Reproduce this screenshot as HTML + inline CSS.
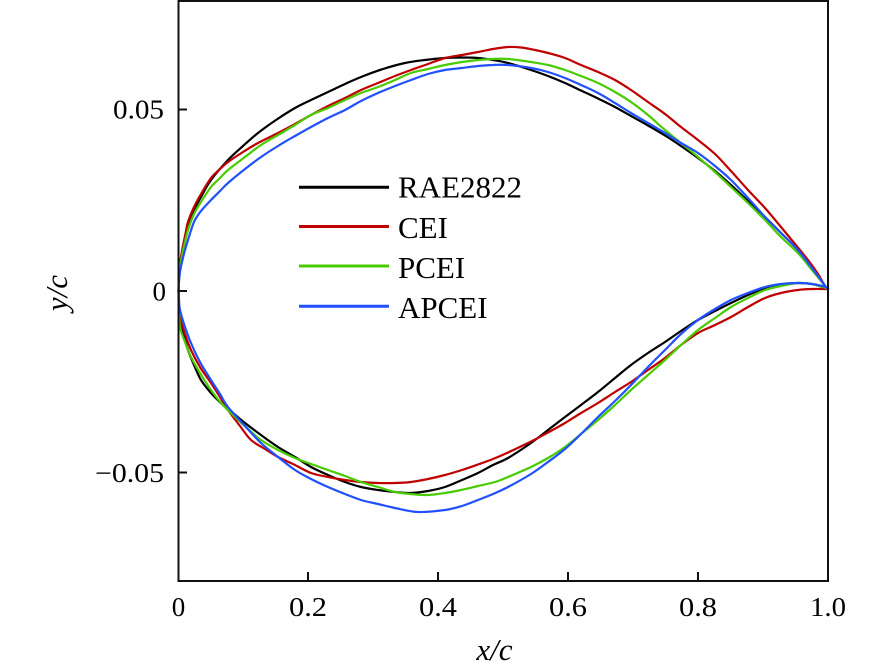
<!DOCTYPE html>
<html>
<head>
<meta charset="utf-8">
<style>
html,body{margin:0;padding:0;background:#fff;}
svg{display:block;}
text{font-family:"Liberation Serif","Times New Roman",serif;fill:#000;}
</style>
</head>
<body>
<svg id="chart" width="887" height="672" viewBox="0 0 887 672" xmlns="http://www.w3.org/2000/svg">
<rect x="0" y="0" width="887" height="672" fill="#fff"/>
<g id="curves" fill="none" stroke-width="2.2" stroke-linejoin="round" stroke-linecap="round">
<!-- black -->
<polyline stroke="#000" points="178.5,291 179,278 180,265 182,252 185,238 188,225 194,210 201,197 211,180 228,160 243,146 258,133 276,120 295,108 311,100 328,92 345,84 361,77 383,69 405,63 425,60 445,58 462,57.5 478,58 493,60 508,63 531,70 548,76 565,83 581,90.5 598,98.5 615,107 631,116 648,125.5 665,135.5 681,146 698,158 715,171 731,185 748,201 765,217 781,233 798,250 812,268 826,287 828,289"/>
<polyline stroke="#000" points="178.5,291 179,305 180,320 184,335 188,350 194,365 201,380 211,393 221,403 233,413 245,423 261,435 278,447 295,457 311,467 328,475 345,482 361,487 378,490 395,492 411,493 428,491 445,487 462,480 478,473 493,465 508,458 531,443 548,430 565,417 581,405 598,392 615,378 631,365 648,353 665,342 681,331 698,320 715,311 731,303 748,295 765,288 781,285 798,283 812,284 826,288 828,289"/>
<!-- red -->
<polyline stroke="#c00000" points="178.5,291 179,278 180,265 182,251 185,236 188,222 194,207 201,194 211,178 220,169 228,162 243,152 258,143 278,133 295,124 311,115 328,106 345,98 361,90 378,83 395,76 411,70 428,64 445,58 462,55 478,52 493,49 508,47 521,47.5 535,50 548,53 565,58 581,65 598,72 615,80 631,90 648,102 665,114 681,127 698,140 715,154 731,171 748,190 765,208 781,227 795,244 808,260 818,274 826,288 828,289"/>
<polyline stroke="#c00000" points="178.5,291 179,304 180,317 185,334 191,350 200,367 211,383 220,397 228,410 240,426 251,440 265,449 278,457 295,465 311,473 328,477 345,480 361,482 378,483 395,483 411,482 428,479 445,475 462,470 478,464.5 493,459 508,452.5 531,441.5 548,432.5 565,423 581,413 598,403 615,392 631,382 648,370 665,358 681,345 698,333 715,325 731,317 748,307 765,298 781,293 798,290 812,289 826,289 828,289"/>
<!-- green -->
<polyline stroke="#48cc00" points="178.5,291 179,279 180,268 182,255 185,242 188,230 194,214 201,202 211,187 220,178 228,170 245,157 261,145 278,135 295,125 311,115 328,108 345,100 361,93 378,87 395,80 411,73 428,69 445,65 462,62 478,60 493,59 508,59 531,62 548,65 565,70 581,76 598,83 615,92 631,102 648,115 665,130 681,143 698,157 715,172 731,187 748,203 765,220 781,237 798,253 812,270 826,287 828,289"/>
<polyline stroke="#48cc00" points="178.5,291 179,308 180,327 185,342 191,357 200,373 211,390 222,404 235,417 248,429 261,440 278,450 295,458 311,464 328,470 345,476 361,482 378,487 395,492 411,494 428,495 445,493 461,490 478,486 495,482 508,477 531,467 548,458 565,447 581,434 598,420 615,405 631,390 648,375 665,360 681,345 698,330 715,318 731,307 748,298 765,290 781,286 798,283 812,284 826,288 828,289"/>
<!-- blue -->
<polyline stroke="#2050ff" points="178.5,291 179,282 180,272 182,262 185,250 188,240 194,222 201,211 211,200 220,191 228,183 245,169 261,157 278,146 295,136 311,127 328,118 345,110 361,101 378,93 395,86 411,80 428,74 445,70 462,68 478,66 493,65 508,65 531,68 548,72 565,78 581,85 598,93 615,103 631,113 648,123 665,133 681,143 698,153 715,166 731,180 748,198 765,217 781,233 798,250 812,268 826,287 828,289"/>
<polyline stroke="#2050ff" points="178.5,291 179,300 180,310 185,327 191,343 200,362 211,380 220,394 228,407 245,426 261,443 278,457 295,470 311,479 328,487 345,494 361,500 378,504 395,508 418,512 445,510 462,506 478,500 493,494 508,487 531,474 548,462 565,449 581,434 598,417 615,401 631,385 648,367 665,350 681,334 698,320 715,309 731,300 748,293 765,287 781,284 798,283 812,284 826,287 828,289"/>
</g>
<!-- frame -->
<rect x="178.5" y="1" width="649.5" height="580" fill="none" stroke="#111" stroke-width="2"/>
<!-- ticks -->
<g stroke="#111" stroke-width="2">
<line x1="308" y1="581" x2="308" y2="572"/>
<line x1="438" y1="581" x2="438" y2="572"/>
<line x1="568" y1="581" x2="568" y2="572"/>
<line x1="698" y1="581" x2="698" y2="572"/>
<line x1="178.5" y1="109.5" x2="187" y2="109.5"/>
<line x1="178.5" y1="291" x2="187" y2="291"/>
<line x1="178.5" y1="472.5" x2="187" y2="472.5"/>
</g>
<!-- tick labels -->
<g font-size="27">
<text x="164" y="118.5" text-anchor="end" textLength="51" lengthAdjust="spacingAndGlyphs">0.05</text>
<text x="166" y="300.5" text-anchor="end">0</text>
<text x="164" y="482" text-anchor="end" textLength="69" lengthAdjust="spacingAndGlyphs">−0.05</text>
<text x="178.5" y="616" text-anchor="middle">0</text>
<text x="289" y="616" textLength="38" lengthAdjust="spacingAndGlyphs">0.2</text>
<text x="419" y="616" textLength="38" lengthAdjust="spacingAndGlyphs">0.4</text>
<text x="549" y="616" textLength="38" lengthAdjust="spacingAndGlyphs">0.6</text>
<text x="679" y="616" textLength="38" lengthAdjust="spacingAndGlyphs">0.8</text>
<text x="810" y="616" textLength="36" lengthAdjust="spacingAndGlyphs">1.0</text>
</g>
<!-- axis titles -->
<text x="494.5" y="660" font-size="31" font-style="italic" text-anchor="middle">x/c</text>
<text transform="translate(67,293) rotate(-90)" font-size="31" font-style="italic" text-anchor="middle">y/c</text>
<!-- legend -->
<g stroke-width="3">
<line x1="299" y1="187.3" x2="389" y2="187.3" stroke="#000"/>
<line x1="299" y1="226.5" x2="389" y2="226.5" stroke="#c00000"/>
<line x1="299" y1="266" x2="389" y2="266" stroke="#48cc00"/>
<line x1="299" y1="306.3" x2="389" y2="306.3" stroke="#2050ff"/>
</g>
<g font-size="31">
<text x="398" y="197.5">RAE2822</text>
<text x="398" y="237.8">CEI</text>
<text x="398" y="278">PCEI</text>
<text x="398" y="318">APCEI</text>
</g>
</svg>
<script>
(function(){
  var NS="http://www.w3.org/2000/svg";
  var g=document.getElementById("curves");
  var pls=Array.prototype.slice.call(g.getElementsByTagName("polyline"));
  pls.forEach(function(pl){
    var raw=pl.getAttribute("points").trim().split(/\s+/).map(function(s){var a=s.split(",");return [parseFloat(a[0]),parseFloat(a[1])];});
    var n=raw.length;
    var d="M"+raw[0][0]+","+raw[0][1];
    for(var i=0;i<n-1;i++){
      var p0=raw[i>0?i-1:i],p1=raw[i],p2=raw[i+1],p3=raw[i+2<n?i+2:i+1];
      var c1x=p1[0]+(p2[0]-p0[0])/6,c1y=p1[1]+(p2[1]-p0[1])/6;
      var c2x=p2[0]-(p3[0]-p1[0])/6,c2y=p2[1]-(p3[1]-p1[1])/6;
      d+=" C"+c1x.toFixed(2)+","+c1y.toFixed(2)+" "+c2x.toFixed(2)+","+c2y.toFixed(2)+" "+p2[0]+","+p2[1];
    }
    var p=document.createElementNS(NS,"path");
    p.setAttribute("d",d);
    p.setAttribute("stroke",pl.getAttribute("stroke"));
    g.replaceChild(p,pl);
  });
})();
</script>
</body>
</html>
